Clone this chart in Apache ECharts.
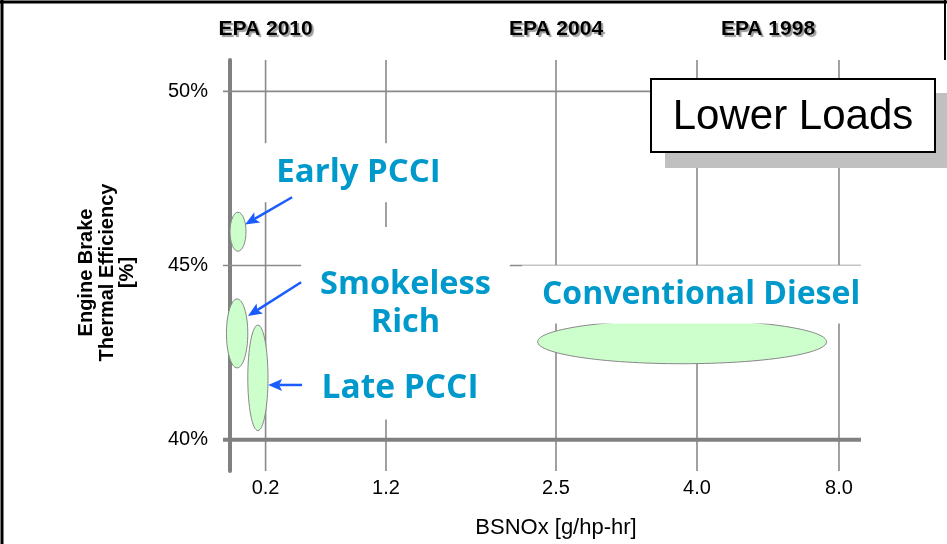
<!DOCTYPE html>
<html>
<head>
<meta charset="utf-8">
<script src="https://cdn.jsdelivr.net/npm/echarts@6/dist/echarts.min.js"></script>
<style>
  html, body { margin: 0; padding: 0; background: #ffffff; }
  #chart { width: 947px; height: 544px; }
</style>
</head>
<body>
<div id="chart"></div>
<script>
// ---- Data -------------------------------------------------------------
// BSNOx ticks (g/hp-hr); the axis is schematic, not to scale
const noxTicks = [0.2, 1.2, 2.5, 4.0, 8.0];
const noxTickLabels = ['0.2', '1.2', '2.5', '4.0', '8.0'];

// Emission standards marked along the top edge
const epaNames = ['EPA 2010', 'EPA 2004', 'EPA 1998'];
const epaNox = [0.2, 2.5, 6.0];

// Brake thermal efficiency ticks (%)
const effTicks = [40, 45, 50];

// Combustion regimes: BSNOx span and efficiency span of each region
const regimeNames = ['Early PCCI', 'Smokeless Rich', 'Late PCCI', 'Conventional Diesel'];
const regimeNoxMin = [0.00, -0.02, 0.10, 2.36];
const regimeNoxMax = [0.09, 0.10, 0.22, 7.65];
const regimeEffMin = [45.41, 42.06, 40.26, 42.18];
const regimeEffMax = [46.53, 44.04, 43.29, 43.44];

// ---- Layout -----------------------------------------------------------
// Where each BSNOx tick sits along the schematic axis (0 = left end, 100 = right end)
const noxSlots = [5.64, 24.72, 51.66, 74.01, 96.51];
const EFF_MIN = 39.1, EFF_MAX = 50.9;

// Piecewise-linear BSNOx -> axis position
function noxToAxis(v) {
  const xs = [0].concat(noxTicks), ps = [0].concat(noxSlots);
  let i = 0;
  while (i < xs.length - 2 && v > xs[i + 1]) i++;
  return ps[i] + (v - xs[i]) * (ps[i + 1] - ps[i]) / (xs[i + 1] - xs[i]);
}

// Callout text boxes: anchor (BSNOx / efficiency), padding [top, right, bottom, left], font size
const calloutText = ['Early PCCI', 'Smokeless\nRich', 'Late PCCI', 'Conventional Diesel'];
const calloutNox = [0.972, 1.349, 1.307, 3.99];
const calloutEff = [47.66, 43.91, 41.47, 44.17];
const calloutPad = [[15.5, 13, 7.5, 13], [67.5, 19, 9.5, 19], [19.5, 12, 6.5, 12], [14.8, 10, 7.2, 20]];
const calloutSize = [33, 32.5, 33.5, 32];
const calloutLine = [36, 38, 36, 36];

// Pointer arrows from the callouts to their regions
const arrowFrom = [[0.42, 46.96], [0.495, 44.52], [0.503, 41.57]];
const arrowTo = [[0.085, 46.18], [0.101, 43.55], [0.221, 41.57]];

const GRID_GREY = '#8a8a8a';
const AXIS_GREY = '#808080';
const CALLOUT_BLUE = '#0099cc';
const ARROW_BLUE = '#1a5cff';
const SANS = '"Liberation Sans", Arial, sans-serif';

function labelFor(values, labels) {
  return function (v) {
    let best = 0;
    values.forEach(function (p, i) { if (Math.abs(p - v) < Math.abs(values[best] - v)) best = i; });
    return labels[best];
  };
}

const tickPos = noxTicks.map(noxToAxis);
const epaPos = epaNox.map(noxToAxis);

const chart = echarts.init(document.getElementById('chart'), null, { renderer: 'canvas' });

chart.setOption({
  animation: false,
  backgroundColor: '#ffffff',
  grid: { left: 230, right: 86, top: 60, bottom: 72 },
  xAxis: [
    {
      type: 'value', min: 0, max: 100, position: 'bottom',
      axisLine: { show: false }, axisTick: { show: false }, splitLine: { show: false },
      axisLabel: {
        customValues: tickPos,
        formatter: labelFor(tickPos, noxTickLabels),
        margin: 7, color: '#000', fontFamily: SANS, fontSize: 20
      },
      name: 'BSNOx [g/hp-hr]', nameLocation: 'middle', nameGap: 46,
      nameTextStyle: { color: '#000', fontFamily: SANS, fontSize: 22, padding: [0, 0, 0, 21] }
    },
    {
      type: 'value', min: 0, max: 100, position: 'top',
      axisLine: { show: false }, axisTick: { show: false }, splitLine: { show: false },
      axisLabel: {
        customValues: epaPos,
        formatter: labelFor(epaPos, epaNames),
        margin: 20, color: '#000', fontFamily: SANS, fontSize: 21, fontWeight: 'bold',
        textShadowColor: 'rgba(0,0,0,0.4)', textShadowOffsetX: 2, textShadowOffsetY: 2, textShadowBlur: 1
      }
    }
  ],
  yAxis: {
    type: 'value', min: EFF_MIN, max: EFF_MAX,
    axisLine: { show: true, lineStyle: { color: AXIS_GREY, width: 4 } },
    axisTick: { show: false }, splitLine: { show: false },
    axisLabel: {
      customValues: effTicks,
      formatter: '{value}%',
      margin: 22, color: '#000', fontFamily: SANS, fontSize: 20
    },
    name: 'Engine Brake\nThermal Efficiency\n[%]', nameLocation: 'middle', nameRotate: 90, nameGap: 92,
    nameTextStyle: { color: '#000', fontFamily: SANS, fontSize: 20, fontWeight: 'bold', lineHeight: 20.5, padding: [0, 14, 0, 0] }
  },
  series: [
    // vertical grid lines at each BSNOx tick
    {
      type: 'custom', z: 1, silent: true,
      data: tickPos.map(function (p) { return [p, EFF_MIN]; }),
      renderItem: function (params, api) {
        const top = api.coord([api.value(0), EFF_MAX]);
        const bot = api.coord([api.value(0), EFF_MIN]);
        return { type: 'line', shape: { x1: top[0], y1: top[1], x2: bot[0], y2: bot[1] },
                 style: { stroke: GRID_GREY, lineWidth: 1.6 } };
      }
    },
    // horizontal grid lines; the 40% line doubles as the BSNOx baseline
    {
      type: 'custom', z: 1, silent: true,
      data: effTicks.map(function (e) { return [0, e]; }),
      renderItem: function (params, api) {
        const a = api.coord([0, api.value(1)]);
        const b = api.coord([100, api.value(1)]);
        const base = api.value(1) === effTicks[0];
        return { type: 'line', shape: { x1: a[0] - 7, y1: a[1], x2: b[0], y2: b[1] },
                 style: { stroke: base ? AXIS_GREY : GRID_GREY, lineWidth: base ? 4 : 1.6 } };
      }
    },
    // combustion regimes
    {
      type: 'custom', z: 2, silent: true,
      data: regimeNames.map(function (n, i) {
        return [noxToAxis(regimeNoxMin[i]), noxToAxis(regimeNoxMax[i]), regimeEffMin[i], regimeEffMax[i]];
      }),
      encode: { x: [0, 1], y: [2, 3] },
      renderItem: function (params, api) {
        const p0 = api.coord([api.value(0), api.value(2)]);
        const p1 = api.coord([api.value(1), api.value(3)]);
        return {
          type: 'ellipse',
          shape: { cx: (p0[0] + p1[0]) / 2, cy: (p0[1] + p1[1]) / 2,
                   rx: Math.abs(p1[0] - p0[0]) / 2, ry: Math.abs(p1[1] - p0[1]) / 2 },
          style: { fill: '#ccffcc', stroke: '#888888', lineWidth: 1 }
        };
      }
    },
    // callout labels on white boxes
    {
      type: 'custom', z: 3, silent: true,
      data: calloutText.map(function (t, i) { return [noxToAxis(calloutNox[i]), calloutEff[i]]; }),
      renderItem: function (params, api) {
        const i = params.dataIndex;
        const p = api.coord([api.value(0), api.value(1)]);
        return {
          type: 'text', x: p[0], y: p[1],
          style: {
            text: calloutText[i], font: 'bold ' + calloutSize[i] + 'px "Open Sans", "Noto Sans", sans-serif',
            fill: CALLOUT_BLUE, align: 'center', verticalAlign: 'middle',
            lineHeight: calloutLine[i], backgroundColor: '#ffffff', padding: calloutPad[i]
          }
        };
      }
    },
    // arrows
    {
      type: 'custom', z: 4, silent: true,
      data: arrowFrom.map(function (f, i) {
        return [noxToAxis(f[0]), f[1], noxToAxis(arrowTo[i][0]), arrowTo[i][1]];
      }),
      encode: { x: [0, 2], y: [1, 3] },
      renderItem: function (params, api) {
        const a = api.coord([api.value(0), api.value(1)]);
        const b = api.coord([api.value(2), api.value(3)]);
        const ang = Math.atan2(b[1] - a[1], b[0] - a[0]);
        const L = 14, W = 6;
        const c = Math.cos(ang), s = Math.sin(ang);
        const base = [b[0] - L * c, b[1] - L * s];
        const notch = [b[0] - (L - 3) * c, b[1] - (L - 3) * s];
        return {
          type: 'group',
          children: [
            { type: 'line', shape: { x1: a[0], y1: a[1], x2: notch[0], y2: notch[1] },
              style: { stroke: ARROW_BLUE, lineWidth: 2.5 } },
            { type: 'polygon',
              shape: { points: [b, [base[0] + W * s, base[1] - W * c], notch, [base[0] - W * s, base[1] + W * c]] },
              style: { fill: ARROW_BLUE } }
          ]
        };
      }
    }
  ],
  graphic: [
    // frame
    { type: 'line', shape: { x1: 2, y1: 0, x2: 2, y2: 544 }, style: { stroke: '#000', lineWidth: 3 } },
    { type: 'line', shape: { x1: 0, y1: 2, x2: 947, y2: 2 }, style: { stroke: '#000', lineWidth: 3 } },
    { type: 'line', shape: { x1: 945, y1: 0, x2: 945, y2: 60 }, style: { stroke: '#000', lineWidth: 2 } },
    // "Lower Loads" panel with drop shadow
    { type: 'rect', z: 10, shape: { x: 665, y: 93, width: 290, height: 75 }, style: { fill: '#c0c0c0' } },
    { type: 'rect', z: 11, shape: { x: 651, y: 79, width: 284, height: 73 },
      style: { fill: '#ffffff', stroke: '#000000', lineWidth: 2 } },
    { type: 'text', z: 12, x: 793, y: 117,
      style: { text: 'Lower Loads', font: '42px "Liberation Sans", Arial, sans-serif', fill: '#000',
               align: 'center', verticalAlign: 'middle' } }
  ]
});
</script>
</body>
</html>
